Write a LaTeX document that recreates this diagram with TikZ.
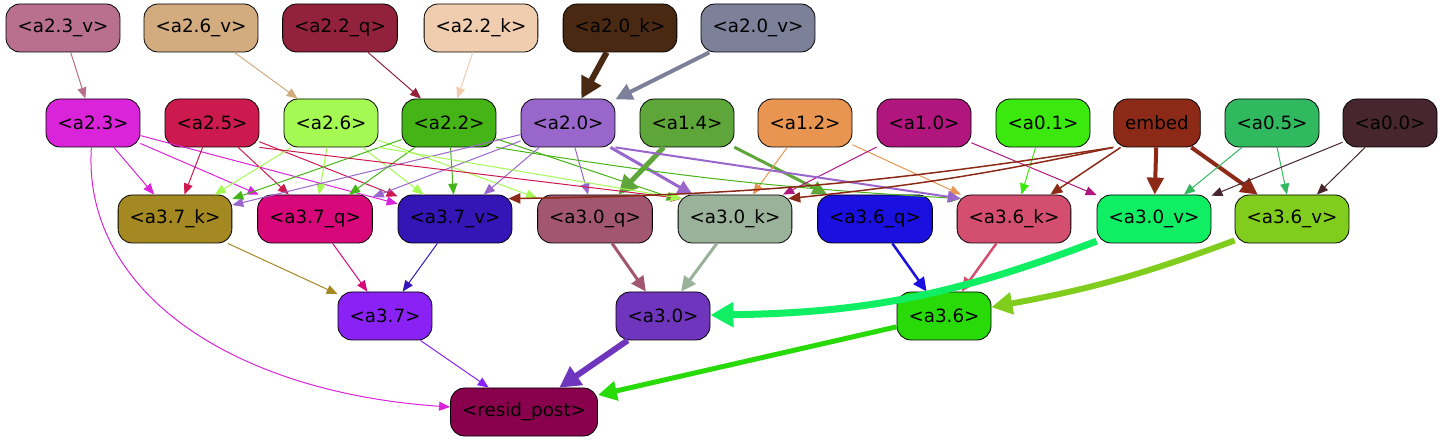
\documentclass[tikz,border=0pt]{standalone}
\usepackage{fontspec}
\setmainfont{DejaVu Sans}
\usetikzlibrary{arrows.meta}
% node colours
\definecolor{ca23v}{HTML}{B8708E}
\definecolor{ca26v}{HTML}{D2AB7F}
\definecolor{ca22q}{HTML}{92223C}
\definecolor{ca22k}{HTML}{F0CDAE}
\definecolor{ca20k}{HTML}{4A2912}
\definecolor{ca20v}{HTML}{7C8099}
\definecolor{ca23}{HTML}{D924D9}
\definecolor{ca25}{HTML}{CD1A4E}
\definecolor{ca26}{HTML}{A4FA52}
\definecolor{ca22}{HTML}{45B416}
\definecolor{ca20}{HTML}{9966CB}
\definecolor{ca14}{HTML}{5EA63A}
\definecolor{ca12}{HTML}{E89551}
\definecolor{ca10}{HTML}{B1167F}
\definecolor{ca01}{HTML}{3BE90F}
\definecolor{cembed}{HTML}{8C2A17}
\definecolor{ca05}{HTML}{30B95F}
\definecolor{ca00}{HTML}{472630}
\definecolor{ca37k}{HTML}{A48821}
\definecolor{ca37q}{HTML}{D8087A}
\definecolor{ca37v}{HTML}{3416B7}
\definecolor{ca30q}{HTML}{A25670}
\definecolor{ca30k}{HTML}{9BB29A}
\definecolor{ca36q}{HTML}{1A10E0}
\definecolor{ca36k}{HTML}{D44E70}
\definecolor{ca30v}{HTML}{10EE63}
\definecolor{ca36v}{HTML}{80CD1D}
\definecolor{ca37}{HTML}{8A22F6}
\definecolor{ca30}{HTML}{7035BD}
\definecolor{ca36}{HTML}{28DA08}
\definecolor{cresid}{HTML}{89004C}

\begin{document}
\begin{tikzpicture}[x=1pt, y=-1pt,
    box/.style={draw=black, line width=0.8pt, rounded corners=14pt, minimum height=48pt,
                inner xsep=11.5pt, inner ysep=0pt, text=black, font=\fontsize{18.3}{20}\selectfont},
    wire/.style={line width=#1, -{Triangle[length=9pt 2, width=6.5pt 2.5]}},
    wire/.default=1pt]
    \useasboundingbox (0,0) rectangle (1443,443);
    % =========================
    % nodes, row by row
    \foreach \n/\x/\y/\t in {a23v/63/28/{<a2.3\_v>}, a26v/201/28/{<a2.6\_v>}, a22q/340/28/{<a2.2\_q>},
            a22k/481/28/{<a2.2\_k>}, a20k/620/28/{<a2.0\_k>}, a20v/758/28/{<a2.0\_v>},
            a23/93/123/{<a2.3>}, a25/212/123/{<a2.5>}, a26/331/123/{<a2.6>}, a22/449/123/{<a2.2>},
            a20/568/123/{<a2.0>}, a14/687/123/{<a1.4>}, a12/805/123/{<a1.2>}, a10/924/123/{<a1.0>},
            a01/1043/123/{<a0.1>}, embed/1157/123/{embed}, a05/1272/123/{<a0.5>}, a00/1390/123/{<a0.0>},
            a37k/175/219/{<a3.7\_k>}, a37q/315/219/{<a3.7\_q>}, a37v/455/219/{<a3.7\_v>},
            a30q/595/219/{<a3.0\_q>}, a30k/735/219/{<a3.0\_k>}, a36q/875/219/{<a3.6\_q>},
            a36k/1014/219/{<a3.6\_k>}, a30v/1154/219/{<a3.0\_v>}, a36v/1292/219/{<a3.6\_v>},
            a37/385/316/{<a3.7>}, a30/663/316/{<a3.0>}, a36/944/316/{<a3.6>},
            resid/524/412/{<resid\_post>}}
        \node[box, fill=c\n] (\n) at (\x,\y) {\t};

    % ===============================
    % straight connectors: tail/head/width
    \foreach \s/\h/\w in {a23v/a23/1, a26v/a26/1, a22q/a22/1, a22k/a22/1, a20k/a20/6, a20v/a20/4,
            a23/a37k/1, a23/a37q/1, a23/a37v/1,
            a25/a37k/1, a25/a37q/1, a25/a37v/1,
            a26/a37k/1, a26/a37q/1, a26/a37v/1, a26/a30q/1,
            a22/a37k/1, a22/a37q/1, a22/a37v/1, a22/a30k/1,
            a20/a37k/1, a20/a37q/1, a20/a37v/1, a20/a30q/1, a20/a30k/3,
            a14/a30q/5, a14/a36q/3, a12/a30k/1, a12/a36k/1,
            a10/a30k/1, a10/a30v/1, a01/a36k/1,
            embed/a36k/1.5, embed/a30v/4, embed/a36v/4,
            a05/a30v/1, a05/a36v/1, a00/a30v/1, a00/a36v/1,
            a37k/a37/1, a37q/a37/1, a37v/a37/1,
            a30q/a30/3, a30k/a30/3, a36q/a36/2.5, a36k/a36/2.5,
            a37/resid/1, a30/resid/6, a36/resid/5}
        \draw[wire=\w pt, draw=c\s] (\s) -- (\h);

    % long connectors, corner to corner: tail/anchor/head/anchor/width/bend
    \foreach \s/\sa/\h/\ha/\w/\b in {a25/south east/a30k/north west/1/0, a26/south east/a30k/north west/1/0,
            a22/south east/a36k/north west/1/3, a20/south east/a36k/north west/2/0}
        \draw[wire=\w pt, draw=c\s] (\s.\sa) to[bend right=\b] ([shift={(4,4)}]\h.\ha);
    \foreach \h/\b in {a37v/4, a30k/3}
        \draw[wire=1.5pt, draw=cembed] (embed.south west) to[bend left=\b] ([shift={(-4,4)}]\h.north east);

    % wide merges into the a3 nodes
    \foreach \s/\h/\w/\b in {a30v/a30/7/-10, a36v/a36/6/-5}
        \draw[wire=\w pt, draw=c\s] (\s) to[bend right=\b] (\h);

    \draw[wire, draw=ca23] (a23) .. controls (82,290) and (230,392) .. (resid);
\end{tikzpicture}
\end{document}
